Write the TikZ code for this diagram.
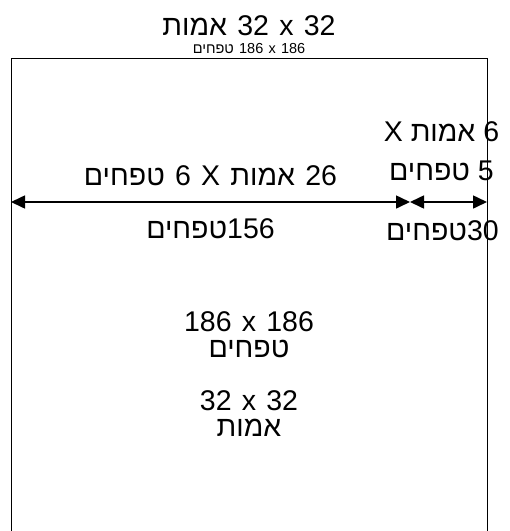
\documentclass[tikz,border=0pt]{standalone}
\usepackage{fontspec}
\setmainfont{Liberation Sans}
\newfontfamily\hebfont[Script=Hebrew]{Liberation Sans}
\TeXXeTstate=1
\newcommand{\widesp}{\spaceskip=0.36em\relax}
\usetikzlibrary{arrows.meta}

\begin{document}
\begin{tikzpicture}[x=1pt,y=-1pt,
    lbl/.style={font=\hebfont\fontsize{28.5}{26}\selectfont, inner sep=0pt, align=center},
    small/.style={font=\hebfont\fontsize{14.5}{16}\selectfont, inner sep=0pt},
    dim/.style={{Triangle[length=14pt,width=13pt]}-{Triangle[length=14pt,width=13pt]}, line width=1.6pt}]
    \useasboundingbox (0,0) rectangle (510,531);

    % outline
    \coordinate (bl) at (11,531);
    \coordinate (tl) at (11,58);
    \coordinate (tr) at (487,58);
    \coordinate (br) at (487,531);
    \draw[line width=0.9pt] (bl) -- (tl) -- (tr) -- (br);

    % titles
    \node[lbl, anchor=base] (title) at (249,35) {\widesp\beginR 32 x 32 אמות\endR};
    \node[small, anchor=base] (subtitle) at (249,53) {\widesp\beginR 186 x 186 טפחים\endR};

    % dimension ends
    \coordinate (wl) at (11,202);
    \coordinate (wm) at (410,202);
    \coordinate (wr) at (487,202);

    % dimensions
    \path [dim] (wl) edge node[lbl, above=15pt] (d26) {\widesp\beginR 26 אמות X 6 טפחים\endR}
                          node[lbl, below=16pt] (d156) {\beginR 156\kern0ptטפחים\endR} (wm);
    \path [dim] (wm) edge node[lbl, above=20pt, xshift=-7pt] (d6) {\beginR 6 אמות X\endR\\[13pt]\beginR 5 טפחים\endR}
                          node[lbl, below=18pt, xshift=-6pt] (d30) {\beginR 30\kern0ptטפחים\endR} (wr);

    % area
    \node[lbl] (area1) at (249,334.5) {\widesp 186 x 186\\\beginR טפחים\endR};
    \node[lbl] (area2) at (249,413.5) {\widesp 32 x 32\\\beginR אמות\endR};
\end{tikzpicture}
\end{document}
